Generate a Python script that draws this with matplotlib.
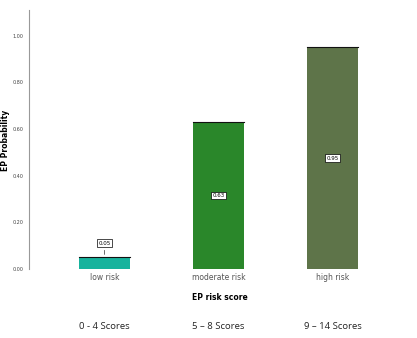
import numpy as np
import matplotlib.pyplot as plt

# data
categories = ['low risk', 'moderate risk', 'high risk']
score_ranges = ['0 - 4 Scores', '5 \u2013 8 Scores', '9 \u2013 14 Scores']
probability = [0.05, 0.63, 0.95]
value_labels = ['0.05', '0.63', '0.95']
bar_colors = ['#17b39d', '#2a872a', '#5e7449']
y_ticks = [0.0, 0.2, 0.4, 0.6, 0.8, 1.0]

fig = plt.figure(figsize=(4.17, 3.38), dpi=100)
ax = fig.add_axes([29 / 417, 1 - 269 / 338, (410 - 29) / 417, (269 - 10) / 338])

x = np.arange(len(categories))
bar_w = 0.45
bars = ax.bar(x, probability, width=bar_w, color=bar_colors, zorder=2)

# dark edge on top of each bar
for xi, p in zip(x, probability):
    ax.plot([xi - bar_w / 2, xi + bar_w / 2], [p, p], color='#111111', lw=0.8, zorder=3)

box = dict(boxstyle='square,pad=0.25', facecolor='white', edgecolor='black', lw=0.5)
for i, (xi, p, lab) in enumerate(zip(x, probability, value_labels)):
    if p < 0.15:
        ax.annotate(lab, xy=(xi, p), xytext=(xi, p + 0.06), ha='center', va='center',
                    fontsize=4, bbox=box,
                    arrowprops=dict(arrowstyle='-', color='black', lw=0.4), zorder=4)
    else:
        ax.text(xi, p / 2, lab, ha='center', va='center', fontsize=4, bbox=box, zorder=4)

ax.set_xlim(-0.662, 2.68)
ax.set_ylim(0, 1.11)
ax.set_yticks(y_ticks)
ax.set_yticklabels([f'{v:.2f}' for v in y_ticks], fontsize=3.5, color='#444444')
ax.set_xticks(x)
ax.set_xticklabels(categories, fontsize=5.5, color='#555555')
ax.tick_params(axis='both', length=0)
ax.tick_params(axis='y', pad=4)
ax.tick_params(axis='x', pad=3)

for side in ['top', 'right', 'bottom']:
    ax.spines[side].set_visible(False)
ax.spines['left'].set_color('#999999')
ax.spines['left'].set_linewidth(0.8)

fig.text(6 / 417, 1 - 140 / 338, 'EP Probability', rotation=90, ha='center', va='center',
         fontsize=5.5, fontweight='bold')
ax.set_xlabel('EP risk score', fontsize=5.5, fontweight='bold', labelpad=8)

# score ranges under the chart
for xi, s in zip(x, score_ranges):
    ax.text(xi, -0.245, s, ha='center', va='center', fontsize=6.8,
            family='Open Sans', color='#222222', clip_on=False)

fig.savefig('out.png', dpi=100)
